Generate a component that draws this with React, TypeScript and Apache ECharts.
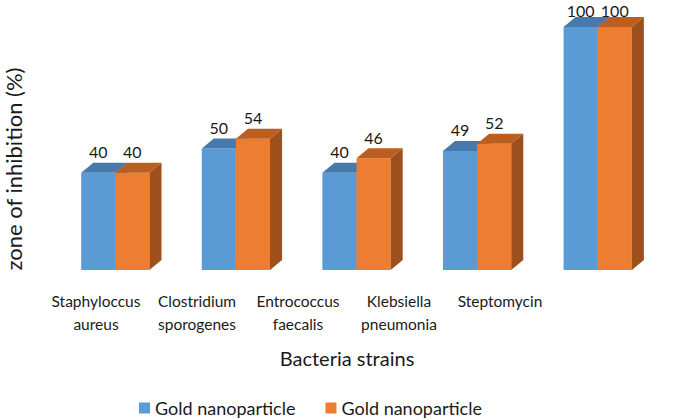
import React, { useEffect, useRef } from "react";
import * as echarts from "echarts";

const categories = [
  "Staphyloccus\naureus",
  "Clostridium\nsporogenes",
  "Entrococcus\nfaecalis",
  "Klebsiella\npneumonia",
  "Steptomycin",
];
const seriesNames = ["Gold nanoparticle", "Gold nanoparticle"];
const seriesA = [40, 50, 40, 49, 100];
const seriesB = [40, 54, 46, 52, 100];
const frontColors = ["#5B9BD5", "#ED7D31"];
const topColors = ["#4779AB", "#BC5E20"];
const sideColors = ["#3F6C98", "#9D4F1C"];

const FONT = "Lato, 'Open Sans', sans-serif";
const TXT = "#1a1a1a";

function makeRender(sIdx: number) {
  return (params: any, api: any) => {
    const ci = api.value(0);
    const val = api.value(1);
    const base = api.coord([ci, 0]);
    const top = api.coord([ci, val]);
    const band = api.size([1, 0])[0];
    const w = band * 0.283;
    const dx = band * 0.1;
    const dy = dx * 0.83;
    const x0 = base[0] - w + sIdx * w;
    const yT = top[1];
    const yB = base[1];
    return {
      type: "group",
      children: [
        {
          type: "rect",
          shape: { x: x0, y: yT, width: w, height: yB - yT },
          style: { fill: frontColors[sIdx] },
        },
        {
          type: "polygon",
          shape: {
            points: [
              [x0, yT],
              [x0 + w, yT],
              [x0 + w + dx, yT - dy],
              [x0 + dx, yT - dy],
            ],
          },
          style: { fill: topColors[sIdx] },
        },
        {
          type: "polygon",
          shape: {
            points: [
              [x0 + w, yT],
              [x0 + w + dx, yT - dy],
              [x0 + w + dx, yB - dy],
              [x0 + w, yB],
            ],
          },
          style: { fill: sideColors[sIdx] },
        },
        {
          type: "text",
          style: {
            x: x0 + w / 2,
            y: Math.max(yT - 13, 18.5),
            text: String(val),
            align: "center",
            verticalAlign: "bottom",
            fill: TXT,
            font: `16px ${FONT}`,
          },
        },
      ],
    };
  };
}

export default function App() {
  const ref = useRef<HTMLDivElement>(null);
  useEffect(() => {
    if (!ref.current) return;
    const chart = echarts.init(ref.current, undefined, { renderer: "svg" });
    const ids = ["s1", "s2"];
    chart.setOption({
      animation: false,
      backgroundColor: "#ffffff",
      textStyle: { fontFamily: FONT },
      grid: [
        { left: 55, right: 27, top: 27, bottom: 150 },
        { left: 45.5, right: 134.5, top: 27, bottom: 150 },
      ],
      xAxis: [
        {
          type: "category",
          gridIndex: 0,
          data: categories,
          axisLine: { show: false },
          axisTick: { show: false },
          axisLabel: { show: false },
        },
        {
          type: "category",
          gridIndex: 1,
          data: categories,
          axisLine: { show: false },
          axisTick: { show: false },
          axisLabel: {
            margin: 19,
            fontSize: 15.5,
            lineHeight: 23,
            color: TXT,
            fontFamily: FONT,
            interval: 0,
          },
        },
      ],
      yAxis: [
        { type: "value", gridIndex: 0, min: 0, max: 100, show: false },
        { type: "value", gridIndex: 1, min: 0, max: 100, show: false },
      ],
      legend: {
        left: 134,
        top: 393,
        itemWidth: 11,
        itemHeight: 11,
        itemGap: 30,
        icon: "rect",
        data: ids,
        formatter: (n: string) => seriesNames[ids.indexOf(n)],
        textStyle: { fontSize: 18, lineHeight: 20, color: TXT, fontFamily: FONT },
      },
      graphic: [
        {
          type: "text",
          x: 13,
          y: 169,
          rotation: Math.PI / 2,
          style: {
            text: "zone of inhibition (%)",
            align: "center",
            verticalAlign: "middle",
            font: `22px ${FONT}`,
            fill: TXT,
          },
        },
        {
          type: "text",
          x: 347,
          y: 358,
          style: {
            text: "Bacteria strains",
            align: "center",
            verticalAlign: "middle",
            font: `20px ${FONT}`,
            fill: TXT,
          },
        },
      ],
      series: [seriesA, seriesB].map((vals, s) => ({
        type: "custom",
        id: ids[s],
        name: ids[s],
        xAxisIndex: 0,
        yAxisIndex: 0,
        itemStyle: { color: frontColors[s] },
        encode: { x: 0, y: 1 },
        renderItem: makeRender(s),
        data: vals.map((v, i) => [i, v]),
      })),
    });
    return () => chart.dispose();
  }, []);
  return (
    <div
      ref={ref}
      style={{ position: "fixed", left: 0, top: 0, width: 685, height: 420 }}
    />
  );
}
